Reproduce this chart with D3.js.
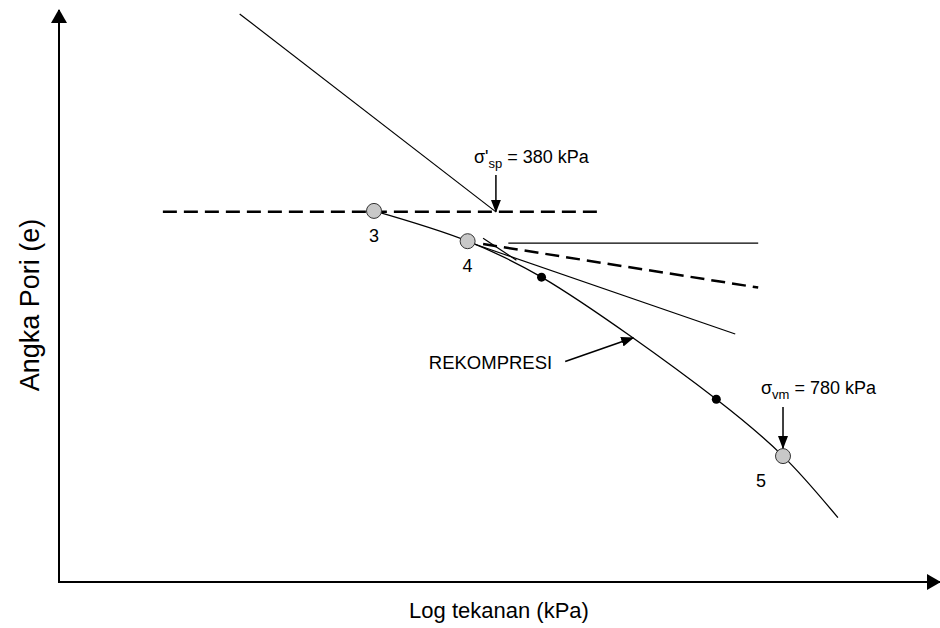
<!DOCTYPE html>
<html>
<head>
<meta charset="utf-8">
<script src="https://cdn.jsdelivr.net/npm/d3@7"></script>
<style>
  body { margin: 0; background: #fff; }
  text { font-family: "Liberation Sans", Arial, sans-serif; fill: #000; }
</style>
</head>
<body>
<div id="chart"></div>
<script>
// compression curve, pressure in kPa vs void ratio
const curveP = [280, 354, 426, 660, 780, 895];
const curveE = [0.892, 0.860, 0.822, 0.693, 0.633, 0.568];

// labelled test points (grey) and intermediate points (black)
const markLabels = ['3', '4', '5'];
const markP = [280, 354, 780];
const markE = [0.892, 0.860, 0.633];
const dotP = [426, 660];
const dotE = [0.822, 0.693];

// construction lines: [p1, e1, p2, e2]
const virginLine = [200, 1.100, 380, 0.891];
const horizDashed = [165, 0.891, 493, 0.891];
const horizThin = [392, 0.858, 733, 0.858];
const slopeDashed = [368, 0.857, 733, 0.811];
const slopeThin = [360, 0.857, 692, 0.762];
const tangentShort = [368, 0.863, 400, 0.840];

// annotations
const spValue = 380;
const vmValue = 780;
const rekompArrow = [452, 0.733, 536, 0.758];

const width = 940, height = 628;

const svg = d3.select('#chart')
  .append('svg')
    .attr('width', width)
    .attr('height', height);

const x = d3.scaleLog()
  .domain([127.2, 1150])
  .range([59, 938]);

const y = d3.scaleLinear()
  .domain([0.5, 1.1])
  .range([582, 14]);

const defs = svg.append('defs');

defs.append('marker')
    .attr('id', 'axisHead')
    .attr('markerUnits', 'userSpaceOnUse')
    .attr('viewBox', '0 0 14 16')
    .attr('refX', 13).attr('refY', 8)
    .attr('markerWidth', 14).attr('markerHeight', 16)
    .attr('orient', 'auto')
  .append('path')
    .attr('d', 'M0,0 L14,8 L0,16 Z')
    .attr('fill', '#000');

defs.append('marker')
    .attr('id', 'noteHead')
    .attr('markerUnits', 'userSpaceOnUse')
    .attr('viewBox', '0 0 13 10')
    .attr('refX', 12).attr('refY', 5)
    .attr('markerWidth', 13).attr('markerHeight', 10)
    .attr('orient', 'auto')
  .append('path')
    .attr('d', 'M0,0 L13,5 L0,10 Z')
    .attr('fill', '#000');

// axes (no ticks, just arrows)
svg.append('line')
    .attr('x1', x.range()[0]).attr('y1', y.range()[0])
    .attr('x2', x.range()[0]).attr('y2', y.range()[1] - 4)
    .attr('stroke', '#000').attr('stroke-width', 2)
    .attr('marker-end', 'url(#axisHead)');

svg.append('line')
    .attr('x1', x.range()[0] - 1).attr('y1', y.range()[0])
    .attr('x2', x.range()[1] + 2).attr('y2', y.range()[0])
    .attr('stroke', '#000').attr('stroke-width', 2)
    .attr('marker-end', 'url(#axisHead)');

svg.append('text')
    .attr('transform', `translate(39, 305) rotate(-90)`)
    .attr('text-anchor', 'middle')
    .attr('font-size', 27)
    .text('Angka Pori (e)');

svg.append('text')
    .attr('x', 499)
    .attr('y', 618)
    .attr('text-anchor', 'middle')
    .attr('font-size', 22)
    .text('Log tekanan (kPa)');

const seg = (s, opts) => svg.append('line')
    .attr('x1', x(s[0])).attr('y1', y(s[1]))
    .attr('x2', x(s[2])).attr('y2', y(s[3]))
    .attr('stroke', '#000')
    .attr('stroke-width', opts.w)
    .attr('stroke-dasharray', opts.dash || null);

seg(virginLine, { w: 1.2 });
seg(horizDashed, { w: 2.5, dash: '14,7' });
seg(horizThin, { w: 1.2 });
seg(slopeDashed, { w: 2.5, dash: '14,7' });
seg(slopeThin, { w: 1.2 });
seg(tangentShort, { w: 1.2 });

// main curve
const curveData = curveP.map((p, i) => [p, curveE[i]]);
svg.append('path')
    .datum(curveData)
    .attr('fill', 'none')
    .attr('stroke', '#000')
    .attr('stroke-width', 1.3)
    .attr('d', d3.line()
      .x(d => x(d[0]))
      .y(d => y(d[1]))
      .curve(d3.curveCatmullRom.alpha(0.5)));

// black intermediate points
svg.selectAll('.dot')
  .data(dotP.map((p, i) => [p, dotE[i]]))
  .enter().append('circle')
    .attr('class', 'dot')
    .attr('cx', d => x(d[0]))
    .attr('cy', d => y(d[1]))
    .attr('r', 4.5)
    .attr('fill', '#000');

// grey labelled points
const marks = svg.selectAll('.mark')
  .data(markP.map((p, i) => ({ p, e: markE[i], label: markLabels[i] })))
  .enter().append('g')
    .attr('class', 'mark');

marks.append('circle')
    .attr('cx', d => x(d.p))
    .attr('cy', d => y(d.e))
    .attr('r', 7.5)
    .attr('fill', '#c8c8c8')
    .attr('stroke', '#333')
    .attr('stroke-width', 1);

marks.append('text')
    .attr('x', d => x(d.p) + (d.label === '5' ? -22 : 0))
    .attr('y', d => y(d.e) + 31)
    .attr('text-anchor', 'middle')
    .attr('font-size', 18)
    .text(d => d.label);

// sigma'_sp annotation
const spX = x(spValue);
const spText = svg.append('text')
    .attr('x', spX - 22)
    .attr('y', 163)
    .attr('font-size', 18);
spText.append('tspan').text('σ\'');
spText.append('tspan').attr('font-size', 13).attr('dy', 5).text('sp');
spText.append('tspan').attr('dy', -5).text(' = 380 kPa');

svg.append('line')
    .attr('x1', spX).attr('y1', 175)
    .attr('x2', spX).attr('y2', y(0.891))
    .attr('stroke', '#000').attr('stroke-width', 1.5)
    .attr('marker-end', 'url(#noteHead)');

// sigma_vm annotation
const vmX = x(vmValue);
const vmText = svg.append('text')
    .attr('x', vmX - 22)
    .attr('y', 394)
    .attr('font-size', 18);
vmText.append('tspan').text('σ');
vmText.append('tspan').attr('font-size', 13).attr('dy', 5).text('vm');
vmText.append('tspan').attr('dy', -5).text(' = 780 kPa');

svg.append('line')
    .attr('x1', vmX).attr('y1', 407)
    .attr('x2', vmX).attr('y2', y(0.633) - 8)
    .attr('stroke', '#000').attr('stroke-width', 1.5)
    .attr('marker-end', 'url(#noteHead)');

// REKOMPRESI annotation
svg.append('line')
    .attr('x1', x(rekompArrow[0])).attr('y1', y(rekompArrow[1]))
    .attr('x2', x(rekompArrow[2])).attr('y2', y(rekompArrow[3]))
    .attr('stroke', '#000').attr('stroke-width', 1.5)
    .attr('marker-end', 'url(#noteHead)');

svg.append('text')
    .attr('x', x(rekompArrow[0]) - 13)
    .attr('y', y(rekompArrow[1]) + 8)
    .attr('text-anchor', 'end')
    .attr('font-size', 18.5)
    .text('REKOMPRESI');
</script>
</body>
</html>
